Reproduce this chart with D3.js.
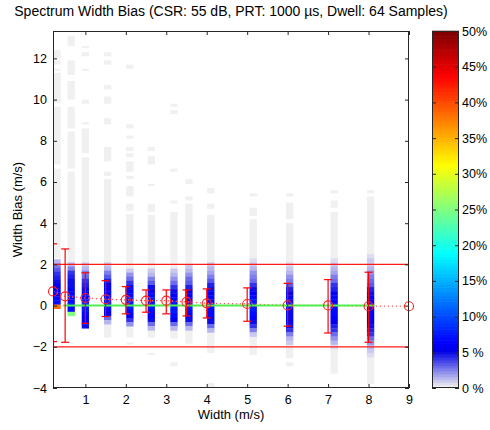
<!DOCTYPE html>
<html><head><meta charset="utf-8">
<script src="https://cdn.jsdelivr.net/npm/d3@7"></script>
<style>
body{margin:0;background:#fff}
text{font-family:"Liberation Sans",Arial,sans-serif;fill:#000}
</style>
</head><body><svg id="c" width="490" height="430"></svg>
<script>
// ---------------- data ----------------
const titleText = "Spectrum Width Bias (CSR: 55 dB, PRT: 1000 \u00b5s, Dwell: 64 Samples)";
const xLabel = "Width (m/s)";
const yLabel = "Width Bias (m/s)";
const xTicks = [1,2,3,4,5,6,7,8,9];
const yTicks = [-4,-2,0,2,4,6,8,10,12];
const cbTicks = [0,5,10,15,20,25,30,35,40,45,50];
const cbLabels = ["0 %","5 %","10%","15%","20%","25%","30%","35%","40%","45%","50%"];

const columnX = [0.3,0.65,1.0,1.55,2.1,2.63,3.19,3.56,4.1,5.15,6.05,7.15,8.05];
const columnWidth = 0.18;
const binHeight = 0.2;
const grayValue = 0.2; // percent, occupied but rare
const grayRanges = [
  [[12.4,12.0],[11.9,11.7],[11.5,11.4],[11.3,9.85],[9.65,6.85],[6.65,2.3]],
  [[13.1,12.6],[11.9,11.2],[10.9,10.0],[9.65,8.6],[8.45,6.65],[6.5,2.1]],
  [[12.6,12.5],[12.3,12.1],[11.5,11.4],[10.0,9.8],[8.9,8.8],[8.6,7.4],[7.2,2.1]],
  [[12.3,12.1],[11.9,11.7],[10.7,10.5],[10.15,9.8],[9.1,8.8],[7.7,7.0],[6.5,6.3],[6.15,-1.55]],
  [[11.7,11.5],[8.8,8.6],[8.25,8.1],[7.7,7.5],[7.4,7.2],[7.0,6.5],[6.3,6.15],[5.8,5.3],[4.95,4.6],[4.45,-1.55],[-1.8,-1.9]],
  [[7.7,7.5],[7.25,6.85],[5.9,5.8],[4.95,4.55],[4.4,-1.55],[-2.3,-2.4]],
  [[9.8,9.65],[9.5,9.3],[6.65,6.5],[5.1,4.95],[4.55,-1.6],[-2.75,-2.95]],
  [[6.15,5.9],[5.3,5.1],[4.95,-1.85]],
  [[5.7,5.45],[4.95,4.7],[4.4,-2.3],[-3.75,-4.0]],
  [[5.45,5.3],[4.75,4.35],[4.2,-2.4]],
  [[5.45,5.3],[5.0,4.2],[4.0,-2.55],[-2.75,-2.95]],
  [[5.6,5.45],[5.1,4.75],[4.55,-3.3]],
  [[5.6,5.45],[5.3,-3.8]]
];
const profileTop = [2.25,2.1,2.1,2.1,1.8,1.8,1.8,2.0,2.1,2.3,2.1,2.3,2.5];
const profiles = [
  [1.2,2.5,3.5,4,4.5,5,5.5,6,6.5,7,7,38],
  [1.5,2.5,4,4.5,5,5,5.5,6,6.5,7,7,7,25],
  [0.8,1.5,2.5,3,4,4.5,5,6,7,7.5,7.5,7.5,7,6.5,6,5],
  [0.8,1.5,2.5,3.5,4.5,5.5,6,6.5,7,7.5,7.5,7,6,3,1.5],
  [1,2,3,4,5,6,7,7.5,7.5,7.5,7,6,4,2],
  [1,1.5,2.5,3.5,5,6,7,7.5,7.5,7.5,7,6.5,5,3,1.5],
  [1,1.5,2,3,4,5,6,7,7.5,7.5,7.5,7,5.5,3,1.5],
  [0.8,1.2,2,3,3.5,4.5,5.5,6.5,7,7.5,7.5,7,6.5,5,3,1.5],
  [0.8,1.2,1.8,2.5,3.5,4.5,5,5.5,6.5,7,7,7,7,6.5,5,3,1.5],
  [0.6,1,1.5,2,2.5,3,4,5,6,7,7.5,7.5,7.5,7,6.5,5,4,2.5,1],
  [0.6,1,1.5,2,2.5,3.5,4.5,5.5,6.5,7,7,7,7,7,6,5,4,2.5,1.5,0.8],
  [0.5,0.8,1.2,1.8,2.5,3,4,4.5,5.5,6,6.5,7,7,7,6.5,5.5,4.5,4,3,2,1.2,0.6],
  [0.5,0.8,1,1.5,2,2.5,3,3.5,4.5,5,5.5,6.5,6.5,6.5,6.5,6,5.5,5,4.5,4,3,2,1.5,1,0.5]
];

const meanX = [0.2,0.5,1,1.5,2,2.5,3,3.5,4,5,6,7,8,9];
const meanBias = [0.69,0.45,0.37,0.31,0.28,0.24,0.24,0.18,0.11,0.08,0.01,0.01,-0.03,-0.03];
const errX = [0.2,0.5,1,1.5,2,2.5,3,3.5,4,5,6,7,8];
const errHigh = [3.0,2.75,1.59,1.21,0.92,0.76,0.76,0.76,0.81,0.86,1.08,1.26,1.62];
const errLow = [-1.75,-1.78,-0.86,-0.53,-0.40,-0.32,-0.40,-0.50,-0.60,-0.76,-1.0,-1.33,-1.78];
const limitLines = [2,-2];
const truthLine = {x0:0.45, x1:8.15, y:0};

const xDomain = [0.2, 9];
const yDomain = [-4, 13.33];
const cbDomain = [0, 50];
const nLevels = 128;

// ---------------- helpers ----------------
function cmap(v){
  let lvl = Math.floor((v - cbDomain[0])/(cbDomain[1]-cbDomain[0])*nLevels);
  lvl = Math.max(0, Math.min(nLevels-1, lvl));
  const t = lvl/(nLevels-1);
  let r,g,b;
  if (t < 0.1){
    const f = t/0.1;
    r = 240*(1-f); g = 240*(1-f); b = 240 + (230-240)*f;
  } else {
    const cl = x => Math.max(0, Math.min(1, x));
    r = 255*cl(Math.min(4*t-1.5, -4*t+4.5));
    g = 255*cl(Math.min(4*t-0.5, -4*t+3.5));
    b = 255*cl(Math.min(4*t+0.5, -4*t+2.5));
  }
  return d3.rgb(r,g,b).formatHex();
}

// ---------------- layout ----------------
const svg = d3.select("#c");
const P = {l:53, r:409, t:31, b:388};
const x = d3.scaleLinear().domain(xDomain).range([P.l, P.r]);
const y = d3.scaleLinear().domain(yDomain).range([P.b, P.t]);

svg.append("defs").append("clipPath").attr("id","clip")
  .append("rect").attr("x",P.l).attr("y",P.t).attr("width",P.r-P.l).attr("height",P.b-P.t);

const plot = svg.append("g").attr("clip-path","url(#clip)");

// gray (rare) cells
const grayCells = [];
grayRanges.forEach((rs,i)=>rs.forEach(r=>grayCells.push({x:columnX[i], y0:r[0], y1:r[1], v:grayValue})));
plot.selectAll("rect.g").data(grayCells).join("rect").attr("class","g")
  .attr("x", d=>x(d.x - columnWidth/2))
  .attr("width", d=>x(d.x + columnWidth/2) - x(d.x - columnWidth/2))
  .attr("y", d=>y(d.y0)).attr("height", d=>y(d.y1)-y(d.y0))
  .attr("fill", d=>cmap(d.v));

// colored histogram cells
const cells = [];
profiles.forEach((p,i)=>p.forEach((v,k)=>{
  const top = profileTop[i] - k*binHeight;
  cells.push({x:columnX[i], y0:top, y1:top-binHeight, v});
}));
plot.selectAll("rect.c").data(cells).join("rect").attr("class","c")
  .attr("x", d=>x(d.x - columnWidth/2))
  .attr("width", d=>x(d.x + columnWidth/2) - x(d.x - columnWidth/2))
  .attr("y", d=>y(d.y0)).attr("height", d=>y(d.y1)-y(d.y0)+0.3)
  .attr("fill", d=>cmap(d.v));

// limit lines
plot.selectAll("line.lim").data(limitLines).join("line").attr("class","lim")
  .attr("x1",P.l).attr("x2",P.r).attr("y1",d=>y(d)).attr("y2",d=>y(d))
  .attr("stroke","#ff1a1a").attr("stroke-width",1.2);

// dotted mean line
const meanPts = meanX.map((mx,i)=>[mx, meanBias[i]]);
plot.append("path").datum(meanPts)
  .attr("d", d3.line().x(d=>x(d[0])).y(d=>y(d[1])))
  .attr("fill","none").attr("stroke","#ff5a5a").attr("stroke-width",1.3)
  .attr("stroke-dasharray","1.3,2.7");

// green truth line
plot.append("line").attr("x1",x(truthLine.x0)).attr("x2",x(truthLine.x1))
  .attr("y1",y(truthLine.y)).attr("y2",y(truthLine.y))
  .attr("stroke","#4ef04e").attr("stroke-width",2);

// error bars
const eb = plot.selectAll("g.eb").data(errX.map((ex,i)=>({x:ex, lo:errLow[i], hi:errHigh[i]}))).join("g").attr("class","eb")
  .attr("stroke","#ff0000").attr("stroke-width",1.2);
eb.append("line").attr("x1",d=>x(d.x)).attr("x2",d=>x(d.x)).attr("y1",d=>y(d.lo)).attr("y2",d=>y(d.hi));
eb.append("line").attr("x1",d=>x(d.x)-4).attr("x2",d=>x(d.x)+4).attr("y1",d=>y(d.lo)).attr("y2",d=>y(d.lo));
eb.append("line").attr("x1",d=>x(d.x)-4).attr("x2",d=>x(d.x)+4).attr("y1",d=>y(d.hi)).attr("y2",d=>y(d.hi));

// mean circles
svg.append("g").selectAll("circle").data(meanPts).join("circle")
  .attr("cx",d=>x(d[0])).attr("cy",d=>y(d[1])).attr("r",4.5)
  .attr("fill","none").attr("stroke","#ff2020").attr("stroke-width",1.1);

// axes
const axisColor = "#262626";
function styleAxis(g){
  g.select(".domain").remove();
  g.selectAll(".tick line").attr("stroke",axisColor);
  g.selectAll("text").style("font-size","12.5px").attr("fill","#000");
}
svg.append("g").attr("transform",`translate(0,${P.b})`)
  .call(d3.axisBottom(x).tickValues(xTicks).tickSize(-4).tickPadding(7).tickFormat(d3.format("d")))
  .call(styleAxis);
svg.append("g").attr("transform",`translate(0,${P.t})`)
  .call(d3.axisTop(x).tickValues(xTicks).tickSize(-4).tickFormat(""))
  .call(styleAxis);
svg.append("g").attr("transform",`translate(${P.l},0)`)
  .call(d3.axisLeft(y).tickValues(yTicks).tickSize(-4).tickPadding(6).tickFormat(d3.format("d")))
  .call(styleAxis);
svg.append("g").attr("transform",`translate(${P.r},0)`)
  .call(d3.axisRight(y).tickValues(yTicks).tickSize(-4).tickFormat(""))
  .call(styleAxis);
svg.append("rect").attr("x",P.l+0.5).attr("y",P.t+0.5).attr("width",P.r-P.l-1).attr("height",P.b-P.t-1)
  .attr("fill","none").attr("stroke",axisColor).attr("stroke-width",1);

// labels
svg.append("text").attr("x",(P.l+P.r)/2).attr("y",16).attr("text-anchor","middle")
  .style("font-size","14px").text(titleText);
svg.append("text").attr("x",(P.l+P.r)/2).attr("y",419).attr("text-anchor","middle")
  .style("font-size","13px").text(xLabel);
svg.append("text").attr("transform",`translate(22,${(P.t+P.b)/2}) rotate(-90)`).attr("text-anchor","middle")
  .style("font-size","13px").text(yLabel);

// colorbar
const CB = {l:432, r:459, t:31, b:388};
const cy = d3.scaleLinear().domain(cbDomain).range([CB.b, CB.t]);
const levels = d3.range(nLevels).map(i => cbDomain[0] + (i+0.5)*(cbDomain[1]-cbDomain[0])/nLevels);
const lh = (CB.b-CB.t)/nLevels;
svg.append("g").selectAll("rect").data(levels).join("rect")
  .attr("x",CB.l).attr("width",CB.r-CB.l)
  .attr("y",d=>cy(d)-lh/2-0.3).attr("height",lh+0.6)
  .attr("fill",d=>cmap(d));
svg.append("g").attr("transform",`translate(${CB.r},0)`)
  .call(d3.axisRight(cy).tickValues(cbTicks).tickSize(-4).tickPadding(3).tickFormat((d,i)=>cbLabels[i]))
  .call(styleAxis);
svg.append("g").attr("transform",`translate(${CB.l},0)`)
  .call(d3.axisLeft(cy).tickValues(cbTicks).tickSize(-4).tickFormat(""))
  .call(styleAxis);
svg.append("rect").attr("x",CB.l+0.5).attr("y",CB.t+0.5).attr("width",CB.r-CB.l-1).attr("height",CB.b-CB.t-1)
  .attr("fill","none").attr("stroke",axisColor).attr("stroke-width",1);
</script>
</body></html>
